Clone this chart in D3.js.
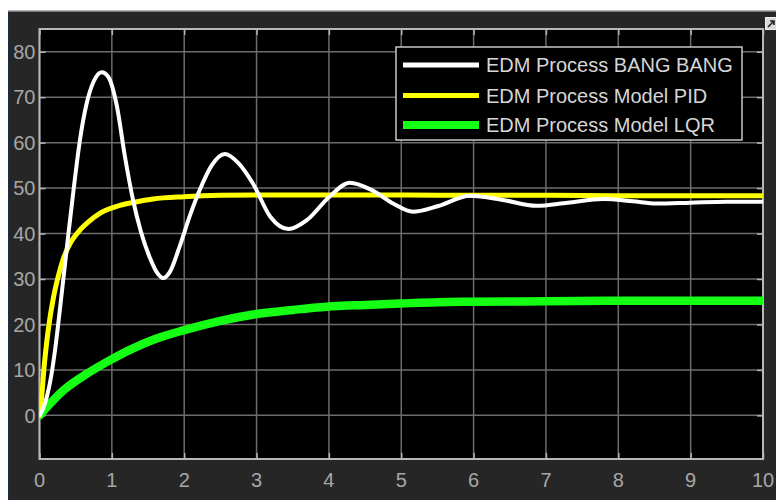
<!DOCTYPE html>
<html>
<head>
<meta charset="utf-8">
<script src="https://cdn.jsdelivr.net/npm/d3@7"></script>
<style>
  html, body { margin: 0; padding: 0; background: #ffffff; }
  svg { display: block; }
  text { font-family: "Liberation Sans", Arial, Helvetica, sans-serif; }
</style>
</head>
<body>
<svg id="chart" width="776" height="500"></svg>
<script>
// ---- data ----
const seriesNames = ["EDM Process BANG BANG", "EDM Process Model PID", "EDM Process Model LQR"];
const seriesColors = ["#ffffff", "#ffff00", "#14ff14"];

const bangT = [0, 0.05, 0.1, 0.16, 0.22, 0.28, 0.34, 0.4, 0.47, 0.56, 0.65, 0.75, 0.86, 0.95, 1.07, 1.18, 1.29, 1.4, 1.53, 1.62, 1.71, 1.8, 1.94, 2.08, 2.22, 2.38, 2.56, 2.75, 2.95, 3.19, 3.44, 3.7, 4.0, 4.29, 4.6, 4.9, 5.16, 5.5, 5.95, 6.4, 6.87, 7.3, 7.79, 8.2, 8.53, 9.0, 9.5, 10];
const bangV = [0, 1.5, 4, 8.5, 15, 23, 31.5, 40, 49.5, 60.7, 68.5, 73.5, 75.5, 74.5, 68, 57, 47.6, 40.5, 34.5, 31.5, 30.2, 31.5, 37.3, 44, 49.8, 55, 57.5, 55.5, 51, 43.7, 41, 43, 48, 51.2, 49.5, 46.5, 44.8, 46, 48.3, 47.4, 46.1, 46.8, 47.6, 47.1, 46.6, 46.8, 47, 47];

const pidT = [0, 0.03, 0.06, 0.12, 0.19, 0.25, 0.33, 0.44, 0.55, 0.68, 0.85, 1.11, 1.35, 1.57, 2, 2.5, 3.19, 4, 5, 6, 7, 8, 9, 10];
const pidV = [0, 4, 10, 18.7, 25.7, 30, 34.5, 38.3, 40.6, 42.6, 44.6, 46.2, 47, 47.6, 48.1, 48.4, 48.5, 48.5, 48.5, 48.4, 48.4, 48.3, 48.3, 48.3];

const lqrT = [0, 0.33, 0.66, 0.97, 1.3, 1.6, 1.99, 2.5, 3, 3.5, 3.97, 4.5, 4.98, 5.5, 5.99, 7, 8, 9, 10];
const lqrV = [0, 5.5, 9.2, 12.1, 14.8, 16.8, 18.7, 20.8, 22.3, 23.2, 23.9, 24.3, 24.6, 24.9, 25.0, 25.1, 25.2, 25.2, 25.2];

const xTicks = [0, 1, 2, 3, 4, 5, 6, 7, 8, 9, 10];
const yTicks = [0, 10, 20, 30, 40, 50, 60, 70, 80];
const xDomain = [0, 10];
const yDomain = [-9.6, 85];

// ---- layout ----
const svg = d3.select("#chart");
const W = 776, H = 500;
const plot = { left: 39.5, right: 763, top: 29, bottom: 459 };

// window panel
svg.append("rect").attr("x", 8).attr("y", 11).attr("width", W - 8).attr("height", H - 11).attr("fill", "#262626");
svg.append("rect").attr("x", 8).attr("y", 11).attr("width", 2).attr("height", H - 11).attr("fill", "#1c2a44");
svg.append("line").attr("x1", 8).attr("x2", W).attr("y1", 11).attr("y2", 11).attr("stroke", "#9a9a9a").attr("stroke-width", 1.5);

// small toolbar icon at top right
svg.append("rect").attr("x", 765.5).attr("y", 17.5).attr("width", 12).attr("height", 12).attr("fill", "#d8d8d8").attr("stroke", "#f0f0f0");
svg.append("path").attr("d", "M768,27 L774,21 M770,21 L774,21 L774,25").attr("stroke", "#222").attr("stroke-width", 1.6).attr("fill", "none");

const x = d3.scaleLinear().domain(xDomain).range([plot.left, plot.right]);
const y = d3.scaleLinear().domain(yDomain).range([plot.bottom, plot.top]);

// plot background
svg.append("rect").attr("x", plot.left).attr("y", plot.top)
  .attr("width", plot.right - plot.left).attr("height", plot.bottom - plot.top).attr("fill", "#000");

// grid
const grid = svg.append("g");
grid.selectAll("line.gx").data(xTicks).join("line")
  .attr("x1", d => x(d)).attr("x2", d => x(d)).attr("y1", plot.top).attr("y2", plot.bottom)
  .attr("stroke", "#6c6c6c").attr("stroke-width", 1.5);
grid.selectAll("line.gy").data(yTicks).join("line")
  .attr("y1", d => y(d)).attr("y2", d => y(d)).attr("x1", plot.left).attr("x2", plot.right)
  .attr("stroke", "#6c6c6c").attr("stroke-width", 1.5);

// axes (ticks inward, MATLAB style) on all four sides
const tickCol = "#b4b4b4";
const axB = svg.append("g").attr("transform", `translate(0,${plot.bottom})`)
  .call(d3.axisTop(x).tickValues(xTicks).tickSize(6).tickFormat(""));
const axT = svg.append("g").attr("transform", `translate(0,${plot.top})`)
  .call(d3.axisBottom(x).tickValues(xTicks).tickSize(6).tickFormat(""));
const axL = svg.append("g").attr("transform", `translate(${plot.left},0)`)
  .call(d3.axisRight(y).tickValues(yTicks).tickSize(6).tickFormat(""));
const axR = svg.append("g").attr("transform", `translate(${plot.right},0)`)
  .call(d3.axisLeft(y).tickValues(yTicks).tickSize(6).tickFormat(""));
[axB, axT, axL, axR].forEach(a => {
  a.select(".domain").remove();
  a.selectAll(".tick line").attr("stroke", tickCol).attr("stroke-width", 1.5);
});

// tick labels
svg.append("g").selectAll("text").data(xTicks).join("text")
  .attr("x", d => x(d)).attr("y", 486.5).attr("text-anchor", "middle")
  .attr("font-size", 20).attr("fill", "#a6a6a6").text(d => d);
svg.append("g").selectAll("text").data(yTicks).join("text")
  .attr("x", 35.5).attr("y", d => y(d)).attr("dy", "0.36em").attr("text-anchor", "end")
  .attr("font-size", 20).attr("fill", "#a6a6a6").text(d => d);

// border
svg.append("rect").attr("x", plot.left).attr("y", plot.top)
  .attr("width", plot.right - plot.left).attr("height", plot.bottom - plot.top)
  .attr("fill", "none").attr("stroke", "#b8b8b8").attr("stroke-width", 2);

// lines
const line = d3.line().x(d => x(d[0])).y(d => y(d[1])).curve(d3.curveMonotoneX);
const clip = svg.append("clipPath").attr("id", "clip").append("rect")
  .attr("x", plot.left).attr("y", plot.top).attr("width", plot.right - plot.left).attr("height", plot.bottom - plot.top);
const lines = svg.append("g").attr("clip-path", "url(#clip)");
const series = [
  { t: lqrT, v: lqrV, color: seriesColors[2], w: 8.5 },
  { t: pidT, v: pidV, color: seriesColors[1], w: 5 },
  { t: bangT, v: bangV, color: seriesColors[0], w: 4 }
];
series.forEach(s => {
  lines.append("path").datum(s.t.map((t, i) => [t, s.v[i]]))
    .attr("d", line).attr("fill", "none").attr("stroke", s.color)
    .attr("stroke-width", s.w).attr("stroke-linejoin", "round").attr("stroke-linecap", "round");
});

// legend
const lg = svg.append("g");
lg.append("rect").attr("x", 396).attr("y", 47).attr("width", 346).attr("height", 93)
  .attr("fill", "#000").attr("stroke", "#c8c8c8").attr("stroke-width", 1.5);
const legW = [5, 5, 8];
const rowY = [65, 95.5, 125];
seriesNames.forEach((n, i) => {
  lg.append("line").attr("x1", 403).attr("x2", 479).attr("y1", rowY[i]).attr("y2", rowY[i])
    .attr("stroke", seriesColors[i]).attr("stroke-width", legW[i]);
  lg.append("text").attr("x", 486).attr("y", rowY[i]).attr("dy", "0.36em")
    .attr("font-size", 20).attr("fill", "#d6d6d6").text(n);
});
</script>
</body>
</html>
